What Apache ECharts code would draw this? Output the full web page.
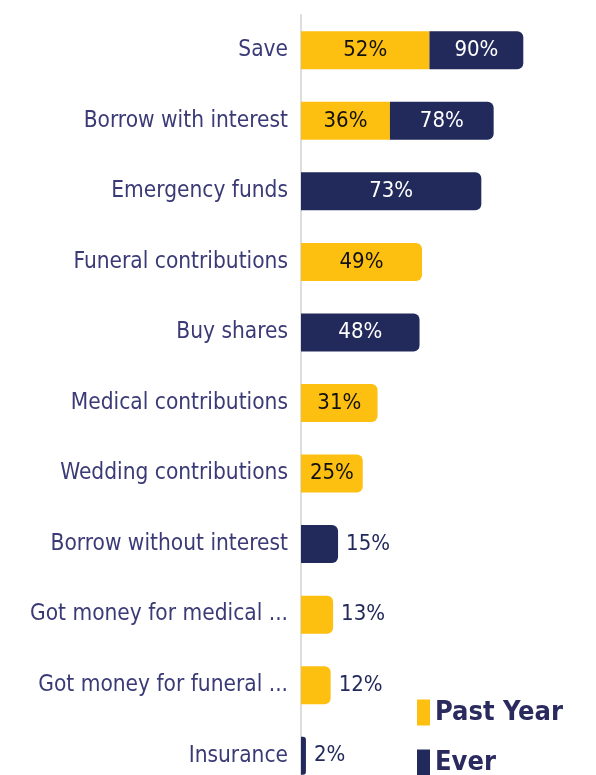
<!DOCTYPE html>
<html>
<head>
<meta charset="utf-8">
<script src="https://cdn.jsdelivr.net/npm/echarts@6/dist/echarts.min.js"></script>
<style>
  html, body { margin: 0; padding: 0; background: #fff; overflow: hidden; }
  #chart { width: 596px; height: 791px; }
</style>
</head>
<body>
<div id="chart"></div>
<script>
var categories = ['Save', 'Borrow with interest', 'Emergency funds', 'Funeral contributions',
    'Buy shares', 'Medical contributions', 'Wedding contributions', 'Borrow without interest',
    'Got money for medical ...', 'Got money for funeral ...', 'Insurance'];
var pastYear = [52, 36, null, 49, null, 31, 25, null, 13, 12, null];
var ever = [90, 78, 73, null, 48, null, null, 15, null, null, 2];

var yellow = '#FDBF10';
var navy = '#222A5B';
var labelColor = '#3A3A76';
var font = '"DejaVu Sans Condensed", "Liberation Sans Narrow", sans-serif';

// small bars get their label outside
function labelFor(v, txtColor) {
    if (v > 20) {
        return { show: true, position: 'inside', color: txtColor };
    }
    return { show: true, position: 'right', color: navy, distance: 8 };
}

var pastData = [], everData = [];
for (var i = 0; i < categories.length; i++) {
    var p = pastYear[i], e = ever[i];
    if (p == null) {
        pastData.push('-');
    } else {
        pastData.push({
            value: p,
            itemStyle: { borderRadius: e == null ? [0, 6, 6, 0] : 0 },
            label: labelFor(p, '#111')
        });
    }
    if (e == null) {
        everData.push('-');
    } else {
        everData.push({
            value: p == null ? e : e - p,
            total: e,
            itemStyle: { borderRadius: e > 5 ? [0, 6, 6, 0] : [0, 3, 3, 0] },
            label: labelFor(e, '#fff')
        });
    }
}

var legendText = { fontFamily: font, fontWeight: 'bold', fontSize: 27, color: '#2A2A5E' };

var chart = echarts.init(document.getElementById('chart'));
chart.setOption({
    animation: false,
    textStyle: { fontFamily: font },
    legend: [
        {
            left: 412, top: 694, icon: 'rect', itemWidth: 13, itemHeight: 26,
            textStyle: legendText, data: ['Past Year']
        },
        {
            left: 412, top: 744, icon: 'rect', itemWidth: 13, itemHeight: 26,
            textStyle: legendText, data: ['Ever']
        }
    ],
    grid: { left: 301, top: 15, right: 48, bottom: 0, containLabel: false },
    xAxis: {
        type: 'value',
        min: 0,
        max: 100,
        show: false
    },
    yAxis: {
        type: 'category',
        inverse: true,
        data: categories,
        axisLine: { show: true, lineStyle: { color: '#DDDDDD', width: 2 } },
        axisTick: { show: false },
        axisLabel: { color: labelColor, fontSize: 22.5, margin: 13, fontFamily: font }
    },
    series: [
        {
            name: 'Past Year',
            type: 'bar',
            stack: 'a',
            barWidth: 38,
            itemStyle: { color: yellow },
            label: { fontSize: 22, fontFamily: font, formatter: function (p) { return p.value + '%'; } },
            data: pastData
        },
        {
            name: 'Ever',
            type: 'bar',
            stack: 'a',
            barWidth: 38,
            itemStyle: { color: navy },
            label: { fontSize: 22, fontFamily: font, formatter: function (p) { return p.data.total + '%'; } },
            data: everData
        }
    ]
});
</script>
</body>
</html>
